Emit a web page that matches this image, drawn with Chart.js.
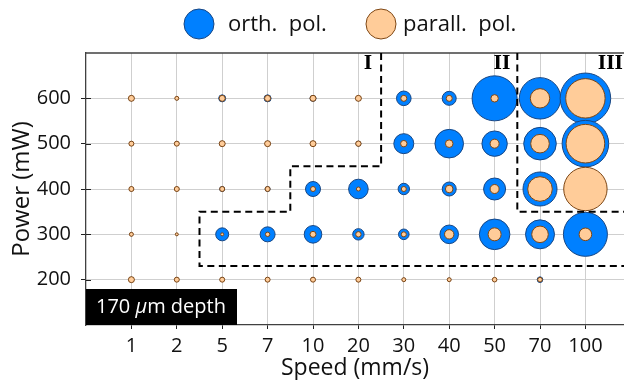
<!DOCTYPE html>
<html>
<head>
<meta charset="utf-8">
<script src="https://cdn.jsdelivr.net/npm/chart.js@4.4.1/dist/chart.umd.min.js"></script>
<style>
  body { margin: 0; background: #fff; }
  #wrap { width: 624px; height: 380px; }
</style>
</head>
<body>
<div id="wrap"><canvas id="chartBurbujas" width="624" height="380"></canvas></div>
<script>
// categorias y filas
const speeds = ['1', '2', '5', '7', '10', '20', '30', '40', '50', '70', '100'];
const powers = [600, 500, 400, 300, 200];
const yTicks = [200, 300, 400, 500, 600];

// radio del marcador (px) por fila de potencia, mismo orden que powers
const orthR = [
    [2.5, 1.5, 3.5, 3.5, 3, 2.5, 7.3, 7, 22.5, 20.7, 25.3],
    [2, 2, 2.5, 2.5, 2.5, 2.5, 10, 14.3, 12.7, 16.3, 23.3],
    [2, 2, 2.5, 2.5, 7.5, 9.8, 5.7, 7, 11, 17, 20.5],
    [1.5, 1, 6.5, 7.5, 8.8, 5.7, 5.3, 9.3, 15.3, 14.5, 22],
    [2.5, 2, 2, 2, 2, 2, 1.5, 1.5, 1.5, 2.8, null]
];
const parallR = [
    [3, 2, 3, 3, 3, 3, 3, 3, 3.7, 9.7, 19.7],
    [2.5, 2.5, 3, 3, 3, 2.7, 3.2, 3.8, 4.5, 9.3, 19.3],
    [2.5, 2.5, 2.5, 2.5, 2.5, 2, 2.5, 3.8, 4.5, 12.3, 21.7],
    [2, 1.5, 1.5, 2.2, 3, 2.7, 2.5, 4.7, 6.5, 8.3, 6.3],
    [3, 2.5, 2.5, 2.5, 2.5, 2.5, 2, 2, 2.3, 2.3, null]
];

// limites de regiones (indice de velocidad, potencia)
const regionI = [[6.5, 700], [6.5, 450], [4.5, 450], [4.5, 350], [2.5, 350], [2.5, 230], [12, 230]];
const regionIII = [[9.5, 700], [9.5, 350], [12, 350]];

const fuente = "'Open Sans', 'Liberation Sans', sans-serif";
const azul = 'rgb(0, 128, 255)';
const azulBorde = 'rgb(25, 70, 130)';
const durazno = 'rgb(255, 204, 153)';
const duraznoBorde = 'rgb(125, 70, 20)';

function armarPuntos(tabla) {
    const puntos = [];
    powers.forEach(function (p, fila) {
        speeds.forEach(function (s, i) {
            const r = tabla[fila][i];
            if (r !== null) puntos.push({ x: i + 1, y: p, r: r });
        });
    });
    return puntos;
}

// dibuja leyenda, regiones, etiqueta y borde superior
const extras = {
    id: 'extras',
    afterDatasetsDraw(chart) {
        const ctx = chart.ctx;
        const xs = chart.scales.x;
        const ys = chart.scales.y;
        const area = chart.chartArea;
        ctx.save();

        // borde superior
        ctx.strokeStyle = '#404040';
        ctx.lineWidth = 1.3;
        ctx.beginPath();
        ctx.moveTo(area.left, area.top);
        ctx.lineTo(area.right, area.top);
        ctx.stroke();

        // marcas internas del eje y
        ctx.lineWidth = 1;
        ctx.strokeStyle = '#202020';
        yTicks.forEach(function (v) {
            const py = Math.round(ys.getPixelForValue(v)) + 0.5;
            ctx.beginPath();
            ctx.moveTo(area.left, py);
            ctx.lineTo(area.left + 5, py);
            ctx.stroke();
        });

        // lineas discontinuas
        ctx.save();
        ctx.beginPath();
        ctx.rect(area.left, area.top, area.right - area.left, area.bottom - area.top);
        ctx.clip();
        ctx.strokeStyle = '#000';
        ctx.lineWidth = 2;
        ctx.setLineDash([7, 4.5]);
        [regionI, regionIII].forEach(function (ruta) {
            ctx.beginPath();
            ruta.forEach(function (pt, k) {
                const px = xs.getPixelForValue(pt[0]);
                const py = ys.getPixelForValue(pt[1]);
                if (k === 0) ctx.moveTo(px, py); else ctx.lineTo(px, py);
            });
            ctx.stroke();
        });
        ctx.restore();

        // numeros romanos
        ctx.fillStyle = '#000';
        ctx.font = "bold 18px 'DejaVu Serif', serif";
        ctx.textAlign = 'right';
        ctx.textBaseline = 'middle';
        ctx.fillText('I', xs.getPixelForValue(6.5) - 9, 64);
        ctx.fillText('II', xs.getPixelForValue(9.5) - 7, 64);
        ctx.fillText('III', area.right - 1, 64);

        // etiqueta de profundidad
        ctx.fillStyle = '#000';
        ctx.fillRect(area.left, 289, 151, area.bottom - 289);
        ctx.fillStyle = '#fff';
        ctx.textAlign = 'left';
        let tx = area.left + 10;
        const ty = 307;
        ctx.font = '20px ' + fuente;
        ctx.fillText('170 ', tx, ty);
        tx += ctx.measureText('170 ').width;
        ctx.font = 'italic 20px ' + fuente;
        ctx.fillText('\u03bc', tx, ty);
        tx += ctx.measureText('\u03bc').width;
        ctx.font = '20px ' + fuente;
        ctx.fillText('m depth', tx, ty);

        // leyenda
        const items = [
            { cx: 199, tx: 228, fill: azul, edge: azulBorde, text: 'orth.  pol.' },
            { cx: 381, tx: 403, fill: durazno, edge: duraznoBorde, text: 'parall.  pol.' }
        ];
        ctx.font = '22px ' + fuente;
        items.forEach(function (it) {
            ctx.beginPath();
            ctx.arc(it.cx, 24, 15, 0, Math.PI * 2);
            ctx.fillStyle = it.fill;
            ctx.fill();
            ctx.lineWidth = 1;
            ctx.strokeStyle = it.edge;
            ctx.stroke();
            ctx.fillStyle = '#111';
            ctx.fillText(it.text, it.tx, 25);
        });

        ctx.restore();
    }
};

document.addEventListener('DOMContentLoaded', function () {
    const ctx = document.getElementById('chartBurbujas').getContext('2d');
    new Chart(ctx, {
        type: 'bubble',
        data: {
            datasets: [
                {
                    label: 'orth. pol.',
                    data: armarPuntos(orthR),
                    backgroundColor: azul,
                    borderColor: azulBorde,
                    borderWidth: 1,
                    order: 2
                },
                {
                    label: 'parall. pol.',
                    data: armarPuntos(parallR),
                    backgroundColor: durazno,
                    borderColor: duraznoBorde,
                    borderWidth: 1,
                    order: 1
                }
            ]
        },
        options: {
            responsive: false,
            animation: false,
            events: [],
            layout: { autoPadding: false, padding: { top: 53, left: 0, right: 0, bottom: 0 } },
            plugins: {
                legend: { display: false },
                tooltip: { enabled: false }
            },
            scales: {
                x: {
                    type: 'linear',
                    min: 0,
                    max: 11.85,
                    afterBuildTicks: function (scale) {
                        scale.ticks = speeds.map(function (s, i) { return { value: i + 1 }; });
                    },
                    afterFit: function (scale) {
                        scale.height = 55;
                        scale.paddingLeft = 0;
                        scale.paddingRight = 0;
                    },
                    ticks: {
                        autoSkip: false,
                        maxRotation: 0,
                        padding: 5,
                        color: '#111',
                        font: { family: fuente, size: 20 },
                        callback: function (v) { return speeds[v - 1]; }
                    },
                    grid: { color: '#cfcfcf', tickColor: '#202020', tickLength: 4, lineWidth: 1 },
                    border: { color: '#404040', width: 1.3 },
                    title: {
                        display: true,
                        text: 'Speed (mm/s)',
                        color: '#111',
                        font: { family: fuente, size: 23, lineHeight: 1 },
                        padding: { top: 0, bottom: 0 }
                    }
                },
                y: {
                    min: 100,
                    max: 700,
                    afterBuildTicks: function (scale) {
                        scale.ticks = yTicks.map(function (v) { return { value: v }; });
                    },
                    afterFit: function (scale) {
                        scale.width = 86;
                        scale.paddingTop = 0;
                        scale.paddingBottom = 0;
                    },
                    ticks: {
                        padding: 10,
                        color: '#111',
                        font: { family: fuente, size: 20 }
                    },
                    grid: { color: '#cfcfcf', tickColor: '#202020', tickLength: 5, lineWidth: 1 },
                    border: { color: '#404040', width: 1.3 },
                    title: {
                        display: true,
                        text: 'Power (mW)',
                        color: '#111',
                        font: { family: fuente, size: 24, lineHeight: 1 },
                        padding: { top: 10, bottom: 0 }
                    }
                }
            }
        },
        plugins: [extras]
    });
});
</script>
</body>
</html>
